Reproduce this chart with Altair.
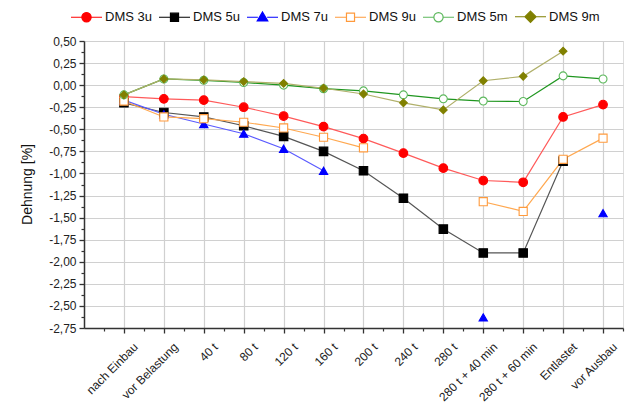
import altair as alt
import pandas as pd

categories = ["nach Einbau", "vor Belastung", "40 t", "80 t", "120 t", "160 t", "200 t",
              "240 t", "280 t", "280 t + 40 min", "280 t + 60 min", "Entlastet", "vor Ausbau"]
series_names = ["DMS 3u", "DMS 5u", "DMS 7u", "DMS 9u", "DMS 5m", "DMS 9m"]
N = None
dms_3u = [-0.13, -0.155, -0.17, -0.25, -0.35, -0.47, -0.605, -0.77, -0.94, -1.08, -1.10, -0.36, -0.22]
dms_5u = [-0.20, -0.31, -0.36, -0.46, -0.58, -0.75, -0.97, -1.28, -1.63, -1.90, -1.90, -0.86, N]
dms_7u = [-0.17, -0.33, -0.44, -0.55, -0.72, -0.97, N, N, N, -2.63, N, N, -1.45]
dms_9u = [-0.18, -0.36, -0.38, -0.42, -0.485, -0.59, -0.71, N, N, -1.32, -1.43, -0.84, -0.60]
dms_5m = [-0.11, 0.07, 0.055, 0.03, 0.0, -0.04, -0.065, -0.11, -0.155, -0.18, -0.185, 0.105, 0.07]
dms_9m = [-0.11, 0.07, 0.06, 0.04, 0.02, -0.035, -0.10, -0.20, -0.28, 0.05, 0.10, 0.385, N]
series_values = [dms_3u, dms_5u, dms_7u, dms_9u, dms_5m, dms_9m]

line_colors = ["#ff5a5a", "#555555", "#5a5aff", "#ffa850", "#1f961f", "#b0b06a"]
marker_colors = ["#ff0000", "#000000", "#0000ff", "#ff9a3c", "#5cb85c", "#808000"]
marker_fills = ["#ff0000", "#000000", "#0000ff", "#ffffff", "#ffffff", "#808000"]
marker_shapes = ["circle", "square", "triangle-up", "square", "circle", "diamond"]
marker_sizes = [75, 60, 80, 55, 65, 100]
legend_paths = [
    "M-1,0H-0.3M0.3,0H1M-0.3,0A0.3,0.3 0 1,0 0.3,0A0.3,0.3 0 1,0 -0.3,0Z",
    "M-1,0H-0.26M0.26,0H1M-0.26,-0.26H0.26V0.26H-0.26Z",
    "M-1,0H-0.3M0.3,0H1M0,-0.34L0.34,0.24H-0.34Z",
    "M-1,0H-0.26M0.26,0H1M-0.26,-0.26H0.26V0.26H-0.26Z",
    "M-1,0H-0.3M0.3,0H1M-0.3,0A0.3,0.3 0 1,0 0.3,0A0.3,0.3 0 1,0 -0.3,0Z",
    "M-1,0H-0.36M0.36,0H1M0,-0.36L0.36,0L0,0.36L-0.36,0Z",
]

rows = []
for i, cat in enumerate(categories):
    for s, vals in zip(series_names, series_values):
        rows.append({"idx": i, "category": cat, "series": s, "value": vals[i]})
df = pd.DataFrame(rows)

FONT = "Liberation Sans"
y_major = [round(-2.75 + 0.25 * k, 2) for k in range(14)]
y_minor = [round(-2.625 + 0.25 * k, 3) for k in range(13)]
x_major = list(range(len(categories)))
x_minor = [i - 0.5 for i in range(len(categories) + 1)]

cat_js = "[" + ",".join("'" + c + "'" for c in categories) + "]"

x_scale = alt.Scale(domain=[-1, 12.5], nice=False, zero=False)
y_scale = alt.Scale(domain=[-2.75, 0.5], nice=False, zero=False)

x_axis_major = alt.Axis(values=x_major, labelExpr=cat_js + "[datum.value]", labelAngle=-45,
                        labelAlign="right", labelBaseline="top", labelPadding=8, labelOffset=8,
                        grid=True, gridColor="#d0d0d0", gridWidth=1.2, tickSize=5, tickColor="#333333",
                        tickWidth=1.3, domainColor="#333333", domainWidth=1.5, title=None,
                        labelFont=FONT, labelFontSize=12, labelColor="#222222", orient="bottom",
                        labelOverlap=False, labelBound=False, labelFlush=False)
x_axis_minor = alt.Axis(values=x_minor, labels=False, grid=False, domain=False, tickSize=3,
                        tickColor="#333333", tickWidth=1.2, title=None, orient="bottom")
y_axis_major = alt.Axis(values=y_major,
                        labelExpr="replace(replace(format(datum.value, '.2f'), '.', ','), '\u2212', '-')",
                        grid=True, gridColor="#d0d0d0", gridWidth=1.2, tickSize=5, tickColor="#333333",
                        tickWidth=1.3, domainColor="#333333", domainWidth=1.5, labelPadding=3,
                        labelFont=FONT, labelFontSize=12, labelColor="#222222", title="Dehnung [%]",
                        titleFont=FONT, titleFontSize=14, titleFontWeight="normal", titleColor="#111111",
                        titleX=-57, titleY=143, titleAngle=-90, titleBaseline="middle", titleAlign="center",
                        orient="left", labelOverlap=False, labelFlush=False)
y_axis_minor = alt.Axis(values=y_minor, labels=False, grid=False, domain=False, tickSize=3,
                        tickColor="#333333", tickWidth=1.2, title=None, orient="left")

base = alt.Chart(df)

lines = base.mark_line(strokeWidth=1.2).encode(
    x=alt.X("idx:Q", scale=x_scale, axis=x_axis_major),
    y=alt.Y("value:Q", scale=y_scale, axis=y_axis_major),
    stroke=alt.Stroke("series:N", scale=alt.Scale(domain=series_names, range=line_colors), legend=None),
)

points = base.mark_point(opacity=1, strokeWidth=1.1).encode(
    x=alt.X("idx:Q", scale=x_scale, axis=x_axis_minor),
    y=alt.Y("value:Q", scale=y_scale, axis=y_axis_minor),
    shape=alt.Shape("series:N", scale=alt.Scale(domain=series_names, range=marker_shapes), legend=None),
    stroke=alt.Stroke("series:N", scale=alt.Scale(domain=series_names, range=marker_colors), legend=None),
    fill=alt.Fill("series:N", scale=alt.Scale(domain=series_names, range=marker_fills), legend=None),
    size=alt.Size("series:O", scale=alt.Scale(domain=series_names, range=marker_sizes), legend=None),
)

leg = alt.Legend(title=None, orient="none", legendX=-14, legendY=-41, direction="horizontal",
                 labelFont=FONT, labelFontSize=13, labelColor="#111111", symbolSize=961,
                 symbolStrokeWidth=1.2, labelOffset=2, columnPadding=4, padding=0)

legend_layer = base.transform_filter("datum.value > 99").mark_point(opacity=1).encode(
    x=alt.X("idx:Q", scale=x_scale, axis=None),
    y=alt.Y("value:Q", scale=y_scale, axis=None),
    shape=alt.Shape("series:N", scale=alt.Scale(domain=series_names, range=legend_paths), legend=leg),
    stroke=alt.Stroke("series:N", scale=alt.Scale(domain=series_names, range=marker_colors), legend=leg),
    fill=alt.Fill("series:N", scale=alt.Scale(domain=series_names, range=marker_fills), legend=leg),
)

chart = alt.layer(lines, points, legend_layer).resolve_scale(
    stroke="independent", fill="independent", shape="independent", size="independent"
).resolve_axis(x="independent", y="independent").properties(
    width=539, height=287,
    autosize=alt.AutoSizeParams(type="none"),
    padding={"left": 84, "top": 41, "right": 2, "bottom": 82},
    background="white",
).configure_view(stroke="#555555", strokeWidth=2).configure(font=FONT)

chart.save("out.html", embed_options={"renderer": "svg", "actions": False})
